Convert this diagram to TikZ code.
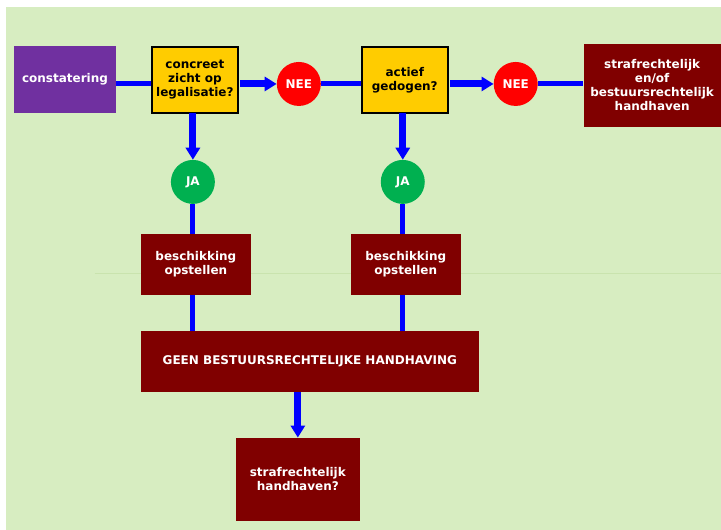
\documentclass[tikz,border=0pt]{standalone}
\usepackage{fontspec}
\setmainfont{DejaVu Sans}
\usetikzlibrary{arrows.meta}
\definecolor{bgreen}{HTML}{D7EDC1}
\definecolor{seamline}{HTML}{C9E3AE}
\definecolor{violet}{HTML}{7030A0}
\definecolor{question}{HTML}{FFCC00}
\definecolor{nored}{HTML}{FF0000}
\definecolor{yesgreen}{HTML}{00B050}
\definecolor{maroon}{HTML}{800000}
\definecolor{flow}{HTML}{0000FF}
\begin{document}
\begin{tikzpicture}[x=1pt,y=-1pt,
  txt/.style={font=\bfseries\fontsize{12}{14}\selectfont,align=center,inner sep=0pt},
  startbox/.style={txt,fill=violet,text=white,minimum width=102pt,minimum height=67pt},
  askbox/.style={txt,fill=question,draw=black,line width=2pt,text=black,minimum width=86pt,minimum height=66pt},
  actbox/.style={txt,fill=maroon,text=white},
  nocirc/.style={txt,circle,fill=nored,text=white,minimum size=44pt},
  yescirc/.style={txt,circle,fill=yesgreen,text=white,minimum size=44pt},
  link/.style={draw=flow,line width=5pt},
  flowarrow/.style={draw=flow,line width=7pt,-{Triangle[length=12pt,width=14pt]}}
]
% page and coloured panel
\fill[white] (0,0) rectangle (721,530);
\fill[bgreen] (6,7) rectangle (721,530);
\draw[seamline,line width=0.8pt] (95,274) -- (721,274);

% nodes
\node[startbox] (const) at (65,79.5) {constatering};
\node[askbox] (q1) at (195,80) {concreet\\zicht op\\legalisatie?};
\node[nocirc] (nee1) at (299,84) {NEE};
\node[askbox] (q2) at (405,80) {actief\\gedogen?};
\node[nocirc] (nee2) at (516,84) {NEE};
\node[actbox,minimum width=137pt,minimum height=83pt] (straf) at (652.5,85.5)
  {strafrechtelijk\\en/of\\bestuursrechtelijk\\handhaven};
\node[yescirc] (ja1) at (193,182) {JA};
\node[yescirc] (ja2) at (403,182) {JA};
\node[actbox,minimum width=110pt,minimum height=61pt] (b1) at (196,264.5) {beschikking\\opstellen};
\node[actbox,minimum width=110pt,minimum height=61pt] (b2) at (406,264.5) {beschikking\\opstellen};
\node[actbox,minimum width=338pt,minimum height=61pt] (geen) at (310,361.5)
  {GEEN BESTUURSRECHTELIJKE HANDHAVING};
\node[actbox,minimum width=124pt,minimum height=83pt] (final) at (298,479.5)
  {strafrechtelijk\\handhaven?};

% plain links
\draw[link] (const.east |- nee1.center) -- (q1.west |- nee1.center);
\draw[link] (nee1.east) -- (q2.west |- nee1.center);
\draw[link] (nee2.east) -- (straf.west |- nee2.center);
\draw[link] (ja1.south) -- (b1.north -| ja1.center);
\draw[link] (ja2.south) -- (b2.north -| ja2.center);
\draw[link] (b1.south -| ja1.center) -- (geen.north -| ja1.center);
\draw[link] (b2.south -| ja2.center) -- (geen.north -| ja2.center);
% arrows
\draw[flowarrow] ([xshift=1pt]q1.east |- nee1.center) -- (nee1.west);
\draw[flowarrow] ([xshift=1pt]q2.east |- nee2.center) -- (nee2.west);
\draw[flowarrow] ([yshift=1pt]q1.south -| ja1.center) -- (ja1.north);
\draw[flowarrow] ([yshift=1pt]q2.south -| ja2.center) -- (ja2.north);
\draw[flowarrow] (geen.south -| final.center) -- (final.north);
\end{tikzpicture}
\end{document}
